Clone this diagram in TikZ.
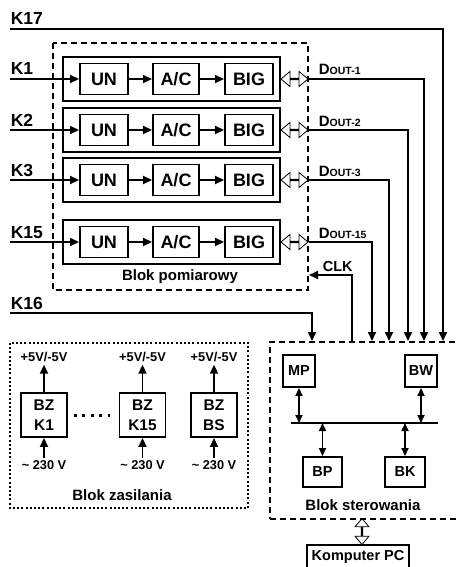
\documentclass[tikz,border=0pt]{standalone}
\usepackage{fontspec}
\setmainfont{Liberation Sans}
\usetikzlibrary{arrows.meta,shapes.arrows}
\begin{document}
\begin{tikzpicture}[x=1pt,y=-1pt,line width=1.7pt,
  arr/.style={-{Triangle[length=9pt,width=8pt]}},
  darr/.style={{Triangle[length=8pt,width=7pt]}-{Triangle[length=8pt,width=7pt]}},
  blk/.style={draw,line width=1.9pt,minimum width=48pt,minimum height=31pt,inner sep=0pt,font=\bfseries\fontsize{18}{18}\selectfont},
  sblk/.style={draw,line width=1.9pt,minimum width=32pt,minimum height=32pt,inner sep=0pt,font=\bfseries\fontsize{14.5}{14.5}\selectfont},
  bz/.style={draw,line width=1.9pt,minimum width=46pt,minimum height=44pt,inner sep=0pt,align=center,font=\bfseries\fontsize{15.5}{20}\selectfont},
  klab/.style={anchor=base west,inner sep=0pt,font=\bfseries\fontsize{17.5}{17.5}\selectfont},
  dlab/.style={anchor=base west,inner sep=0pt,font=\bfseries\fontsize{15}{15}\selectfont},
  blab/.style={font=\bfseries\fontsize{15}{15}\selectfont},
  vlab/.style={inner sep=2pt,font=\bfseries\fontsize{12.8}{13}\selectfont},
  dblarr/.style={double arrow,draw,line width=0.8pt,double arrow head extend=4.5pt,double arrow tip angle=80,minimum height=27pt,minimum width=15pt,inner sep=0pt},
  blokbox/.style={line width=1.8pt,dash pattern=on 6pt off 4pt}]
\useasboundingbox (0,0) rectangle (456,567);
\draw[blokbox] (53,43) rectangle (308,290);
\node[blab] (lpom) at (180,277) {Blok pomiarowy};
\foreach \n/\y/\k/\m/\x in {1/79/K1/1/424,2/130/K2/2/408,3/180/K3/3/389,4/242/K15/15/372}{
  \node[draw,line width=1.9pt,minimum width=217pt,minimum height=44pt] (row\n) at (171.5,\y) {};
  \node[blk] (un\n) at (104,\y) {UN};\node[blk,minimum width=46pt] (ac\n) at (176,\y) {A/C};\node[blk] (big\n) at (249,\y) {BIG};
  \draw[arr] (un\n)--(ac\n);\draw[arr] (ac\n)--(big\n);
  \node[klab] (k\n) at (10,\y-4) {\k};\coordinate (kin\n) at (10,\y);\draw[arr] (kin\n)--(un\n);
  \node[dblarr] (io\n) at (294.5,\y) {};
  \node[dlab] (dl\n) at (318,\y-4) {D{\fontsize{10.5}{11}\selectfont OUT-\m}};
  \coordinate (t\n) at (\x,341);\draw[arr] (io\n.east)-|(t\n);
}
\node[klab] (k17) at (10,25) {K17};\coordinate (kin17) at (10,29);\coordinate (t17) at (443,341);\draw[arr] (kin17)-|(t17);
\node[klab] (k16) at (10,309) {K16};\coordinate (kin16) at (10,313);\coordinate (t16) at (312,341);\draw[arr] (kin16)-|(t16);
\coordinate (clkin) at (352,341);\coordinate (clkout) at (309,275);\draw[arr] (clkin)|-(clkout);
\node[anchor=base west,inner sep=0pt,font=\bfseries\fontsize{14.5}{14.5}\selectfont] (clk) at (322,271) {CLK};
\node[draw,blokbox,minimum width=189pt,minimum height=177pt,anchor=north west] (bster) at (269,341) {};
\node[blab] (lster) at (363,505) {Blok sterowania};
\node[sblk] (mp) at (299,371) {MP};\node[sblk] (bw) at (421,371) {BW};
\node[sblk,minimum width=39pt,minimum height=30pt] (bp) at (322.5,472) {BP};\node[sblk,minimum width=40pt,minimum height=30pt] (bk) at (405,472) {BK};
\coordinate (busl) at (291,423);\coordinate (busr) at (438,423);\draw (busl)--(busr);
\draw[darr] (mp)--(mp|-busl);\draw[darr] (bw)--(bw|-busl);\draw[darr] (bp|-busl)--(bp);\draw[darr] (bk|-busl)--(bk);
\node[sblk,minimum width=102pt,minimum height=24pt] (pc) at (358,557) {Komputer PC};
\node[dblarr,shape border rotate=90,minimum height=26pt,minimum width=14pt,double arrow head extend=4pt] (pcio) at (362,531.5) {};
\draw[line width=1.8pt,dash pattern=on 2pt off 2.2pt] (10,343) rectangle (248,508);
\node[blab] (lzas) at (122,495) {Blok zasilania};
\foreach \n/\x/\t in {1/44/K1,15/142.5/K15,s/214/BS}{
  \node[bz] (bz\n) at (\x,415) {BZ\\\t};
  \node[vlab] (up\n) at (\x,357) {+5V/-5V};\node[vlab] (mains\n) at (\x,465) {\textasciitilde{} 230 V};
  \draw[arr] (bz\n)--(up\n);\draw[arr] (mains\n)--(bz\n);
}
\draw[line width=3pt,dash pattern=on 3pt off 5.5pt,shorten <=6pt,shorten >=9pt] (bz1)--(bz15);
\end{tikzpicture}
\end{document}
